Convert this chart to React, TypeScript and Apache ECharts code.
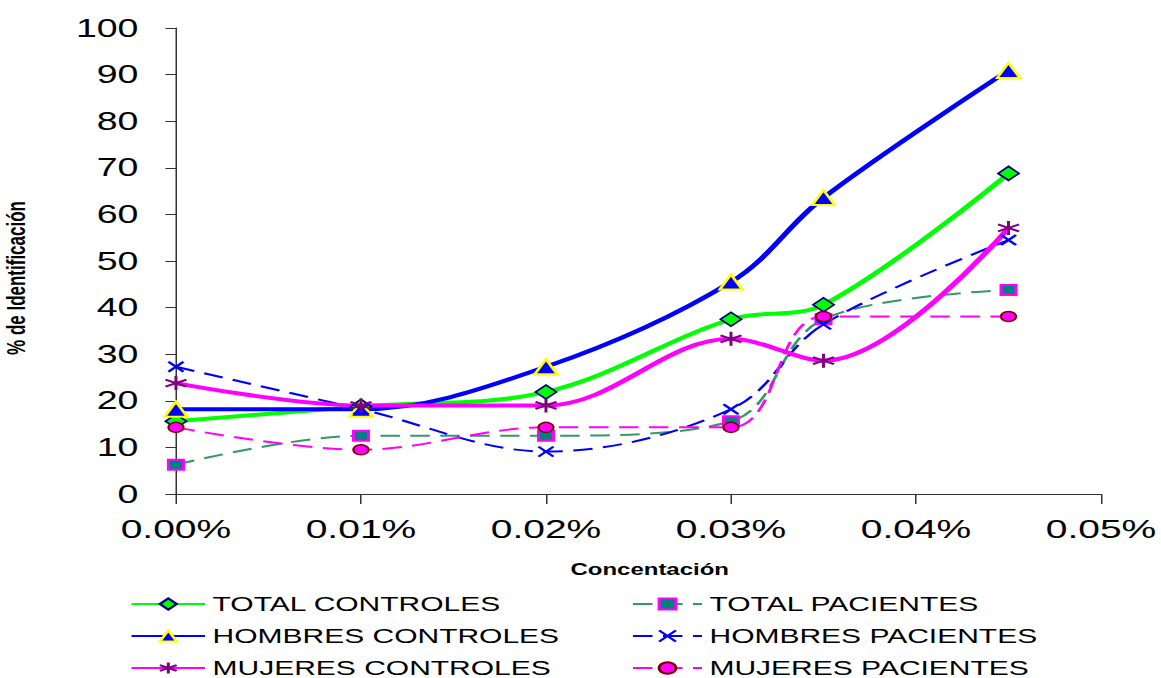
import React, { useEffect, useRef } from "react";
import * as echarts from "echarts";

// Concentration (%) at which each identification rate was measured
const concentraciones = [0, 0.01, 0.02, 0.03, 0.035, 0.045];

// % de identificación per group
const totalControles = [15.6, 18.8, 21.9, 37.5, 40.6, 68.8];
const hombresControles = [18.2, 18.2, 27.3, 45.5, 63.6, 90.9];
const mujeresControles = [23.8, 19.0, 19.0, 33.3, 28.6, 57.1];
const totalPacientes = [6.3, 12.5, 12.5, 15.6, 37.5, 43.8];
const hombresPacientes = [27.3, 18.2, 9.1, 18.2, 36.4, 54.5];
const mujeresPacientes = [14.3, 9.5, 14.3, 14.3, 38.1, 38.1];

const legendIzquierda = ["TOTAL CONTROLES", "HOMBRES CONTROLES", "MUJERES CONTROLES"];
const legendDerecha = ["TOTAL PACIENTES", "HOMBRES PACIENTES", "MUJERES PACIENTES"];

const FONT = "'Liberation Sans', Arial, sans-serif";
// The whole drawing is widened horizontally by this factor
const STRETCH = 1.5;
const W = 1161;
const H = 678;

const ASTERISK = "path://M5,0L5,10M0.7,2.5L9.3,7.5M9.3,2.5L0.7,7.5";
const CROSS = "path://M0,0L10,10M10,0L0,10";

const pairs = (ys: number[]) => concentraciones.map((x, i) => [x, ys[i]]);

export default function App() {
  const ref = useRef<HTMLDivElement>(null);

  useEffect(() => {
    if (!ref.current) return;
    const chart = echarts.init(ref.current, undefined, { renderer: "svg" });
    const smooth = 0.35;
    const dash = [13, 7];
    const legendText = { fontFamily: FONT, fontSize: 20, lineHeight: 18, color: "#000" };
    const legendBox = {
      orient: "vertical",
      top: 594,
      height: 120,
      width: 400,
      padding: 0,
      itemHeight: 14,
      itemGap: 12,
      textStyle: legendText,
    };

    chart.setOption({
      animation: false,
      backgroundColor: "#fff",
      grid: { left: 117.3, right: 40, top: 28, bottom: 184, outerBoundsMode: "none", containLabel: false },
      xAxis: {
        type: "value",
        min: 0,
        max: 0.05,
        interval: 0.01,
        name: "Concentación",
        nameLocation: "middle",
        nameGap: 68,
        nameTextStyle: {
          fontFamily: FONT,
          fontWeight: "bold",
          fontSize: 16,
          color: "#000",
          padding: [0, 0, 0, 15],
        },
        axisLine: { lineStyle: { color: "#333", width: 1 } },
        axisTick: { length: 10, lineStyle: { color: "#333" } },
        splitLine: { show: false },
        axisLabel: {
          fontFamily: FONT,
          fontSize: 26,
          color: "#000",
          margin: 22,
          formatter: (v: number) => v.toFixed(2) + "%",
        },
      },
      yAxis: {
        type: "value",
        min: 0,
        max: 100,
        interval: 10,
        name: "% de Identificación",
        nameLocation: "middle",
        nameGap: 98,
        nameRotate: 90,
        nameTextStyle: {
          fontFamily: FONT,
          fontWeight: "bold",
          fontSize: 17,
          color: "#000",
          padding: [0, 34, 0, 0],
        },
        axisLine: { show: true, lineStyle: { color: "#333", width: 1 } },
        axisTick: { show: true, length: 7, lineStyle: { color: "#333" } },
        splitLine: { show: false },
        axisLabel: { fontFamily: FONT, fontSize: 25, color: "#000", margin: 25 },
      },
      legend: [
        { ...legendBox, data: legendIzquierda, left: 86.7, itemWidth: 49 },
        { ...legendBox, data: legendDerecha, left: 421, itemWidth: 46 },
      ],
      series: [
        {
          name: "TOTAL CONTROLES",
          type: "line",
          data: pairs(totalControles),
          smooth,
          symbol: "diamond",
          symbolSize: 14,
          lineStyle: { color: "#00FF00", width: 4 },
          itemStyle: { color: "#00FF00", borderColor: "#000080", borderWidth: 1.5 },
        },
        {
          name: "TOTAL PACIENTES",
          type: "line",
          data: pairs(totalPacientes),
          smooth,
          symbol: "rect",
          symbolSize: 10,
          lineStyle: { color: "#339966", width: 2, type: dash },
          itemStyle: { color: "#008080", borderColor: "#FF00FF", borderWidth: 2 },
        },
        {
          name: "HOMBRES CONTROLES",
          type: "line",
          data: pairs(hombresControles),
          smooth,
          symbol: "triangle",
          symbolSize: 15,
          lineStyle: { color: "#0000FF", width: 4 },
          itemStyle: { color: "#0000FF", borderColor: "#FFFF00", borderWidth: 2 },
        },
        {
          name: "HOMBRES PACIENTES",
          type: "line",
          data: pairs(hombresPacientes),
          smooth,
          symbol: CROSS,
          symbolSize: 10,
          lineStyle: { color: "#0000FF", width: 2, type: dash },
          itemStyle: { color: "rgba(0,0,0,0)", borderColor: "#0000FF", borderWidth: 2 },
        },
        {
          name: "MUJERES CONTROLES",
          type: "line",
          data: pairs(mujeresControles),
          smooth,
          symbol: ASTERISK,
          symbolSize: 14,
          lineStyle: { color: "#FF00FF", width: 4 },
          itemStyle: { color: "rgba(0,0,0,0)", borderColor: "#800080", borderWidth: 2 },
        },
        {
          name: "MUJERES PACIENTES",
          type: "line",
          data: pairs(mujeresPacientes),
          smooth,
          symbol: "circle",
          symbolSize: 10,
          lineStyle: { color: "#FF00FF", width: 2, type: dash },
          itemStyle: { color: "#FF00FF", borderColor: "#800000", borderWidth: 1.5 },
        },
      ],
    });

    return () => chart.dispose();
  }, []);

  return (
    <div
      style={{
        position: "absolute",
        left: 0,
        top: 0,
        width: W,
        height: H,
        overflow: "hidden",
        background: "#fff",
      }}
    >
      <div
        ref={ref}
        style={{
          width: W / STRETCH,
          height: H,
          transform: `scaleX(${STRETCH})`,
          transformOrigin: "0 0",
        }}
      />
    </div>
  );
}
